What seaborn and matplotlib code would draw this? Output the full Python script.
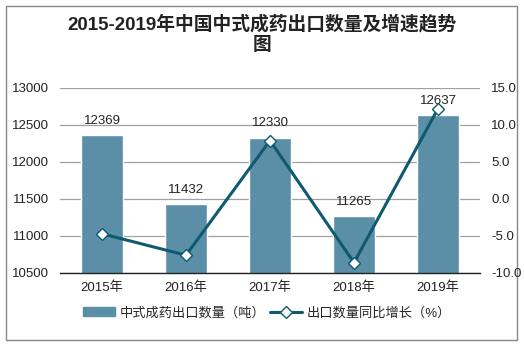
import matplotlib
matplotlib.use("Agg")
import matplotlib.pyplot as plt
import seaborn as sns
import pandas as pd
from matplotlib.patches import Rectangle
from matplotlib.lines import Line2D

years = ["2015年", "2016年", "2017年", "2018年", "2019年"]
export_qty = [12369, 11432, 12330, 11265, 12637]
growth = [-4.7, -7.6, 7.9, -8.6, 12.2]
left_ticks = [10500, 11000, 11500, 12000, 12500, 13000]
right_ticks = [-10.0, -5.0, 0.0, 5.0, 10.0, 15.0]

sns.set_theme(style="white")
plt.rcParams['font.family'] = ['Liberation Sans', 'Noto Sans CJK SC', 'DejaVu Sans']
plt.rcParams['axes.unicode_minus'] = False

bar_color = "#5b8fa7"
line_color = "#0e5a6e"

df = pd.DataFrame({"year": years, "qty": export_qty, "growth": growth})

fig = plt.figure(figsize=(5.24, 3.47), dpi=100)
ax = fig.add_axes([0.1145, 0.2133, 0.8015, 0.5331])

sns.barplot(data=df, x="year", y="qty", color=bar_color, width=0.5, ax=ax,
            saturation=1, zorder=2)
ax.set_ylim(10500, 13000)
ax.set_xlim(-0.5, 4.5)
ax.set_yticks(left_ticks)
ax.set_yticklabels([str(t) for t in left_ticks])
ax.grid(axis="y", color="#a0a0a0", linewidth=0.9, zorder=0)
ax.set_axisbelow(True)
for s in ["left", "right", "top"]:
    ax.spines[s].set_visible(False)
ax.spines["bottom"].set_color("#222222")
ax.spines["bottom"].set_linewidth(1.0)
ax.tick_params(axis="both", length=0, labelsize=9.5, colors="#222222")
ax.tick_params(axis="y", pad=8)
ax.tick_params(axis="x", pad=6)
ax.set_xlabel("")
ax.set_ylabel("")

for i, v in enumerate(export_qty):
    ax.text(i, v + 110, str(v), ha="center", va="bottom", fontsize=9.5, color="#222222", zorder=5)

ax2 = ax.twinx()
sns.lineplot(x=list(range(len(years))), y=growth, ax=ax2, color=line_color,
             linewidth=2.2, marker="D", markersize=6.5, markerfacecolor="white",
             markeredgecolor=line_color, markeredgewidth=1.0, zorder=4)
ax2.set_ylim(-10, 15)
ax2.set_yticks(right_ticks)
ax2.set_yticklabels([f"{t:.1f}" for t in right_ticks])
for s in ["left", "right", "top", "bottom"]:
    ax2.spines[s].set_visible(False)
ax2.tick_params(axis="y", length=0, labelsize=9.5, colors="#222222", pad=8)
ax2.set_ylabel("")
ax2.grid(False)
ax.set_zorder(1)
ax2.set_zorder(2)
ax2.patch.set_visible(False)

fig.text(0.5, 0.932, "2015-2019年中国中式成药出口数量及增速趋势", ha="center", va="center",
         fontsize=13.5, fontweight="bold", color="#222222")
fig.text(0.5, 0.868, "图", ha="center", va="center",
         fontsize=13.5, fontweight="bold", color="#222222")

handles = [Rectangle((0, 0), 1, 1, color=bar_color),
           Line2D([0], [0], color=line_color, linewidth=2.2, marker="D", markersize=6,
                  markerfacecolor="white", markeredgecolor=line_color)]
fig.legend(handles, ["中式成药出口数量（吨）", "出口数量同比增长（%）"],
           loc="center", bbox_to_anchor=(0.51, 0.098), ncol=2, frameon=False,
           fontsize=9.5, handlelength=2.4, handletextpad=0.4, columnspacing=0.3)

border = Rectangle((0.012, 0.02), 0.975, 0.963, transform=fig.transFigure,
                   fill=False, edgecolor="#888888", linewidth=1.0)
fig.patches.append(border)

fig.savefig("out.png", dpi=100)
